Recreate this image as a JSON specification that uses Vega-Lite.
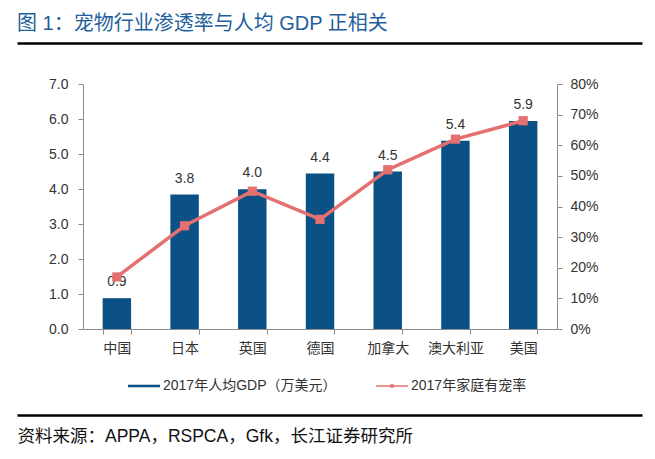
{
  "$schema": "https://vega.github.io/schema/vega-lite/v6.json",
  "width": 625,
  "height": 245,
  "autosize": {"type": "none"},
  "padding": {"left": 17, "top": 84, "right": 13, "bottom": 130},
  "background": "white",
  "config": {
    "view": {"stroke": null},
    "font": "Liberation Sans, Noto Sans CJK SC",
    "axis": {"grid": false, "domainColor": "#8c8c8c", "tickColor": "#8c8c8c", "labelColor": "#333333", "labelFontSize": 14, "labelFont": "Liberation Sans, Noto Sans CJK SC"}
  },
  "title": {
    "text": "图 1：宠物行业渗透率与人均 GDP 正相关",
    "anchor": "start",
    "frame": "group",
    "fontSize": 20,
    "fontWeight": "normal",
    "color": "#1f5f9b",
    "font": "Liberation Sans, Noto Sans CJK SC",
    "offset": 9
  },
  "data": {
    "values": [
      {"country": "中国", "gdp": 0.88, "rate": 0.17},
      {"country": "日本", "gdp": 3.84, "rate": 0.337},
      {"country": "英国", "gdp": 3.99, "rate": 0.45},
      {"country": "德国", "gdp": 4.44, "rate": 0.358},
      {"country": "加拿大", "gdp": 4.5, "rate": 0.52},
      {"country": "澳大利亚", "gdp": 5.38, "rate": 0.62},
      {"country": "美国", "gdp": 5.94, "rate": 0.68}
    ]
  },
  "layer": [
    {
      "mark": {"type": "bar"},
      "encoding": {
        "x": {
          "field": "country", "type": "nominal", "sort": null,
          "scale": {"domain": [" ", "中国", "日本", "英国", "德国", "加拿大", "澳大利亚", "美国", "  "], "paddingInner": 0.58, "paddingOuter": 0.405, "align": 0.327},
          "axis": {"orient": "bottom", "title": null, "labelAngle": 0, "tickBand": "extent", "values": ["中国", "日本", "英国", "德国", "加拿大", "澳大利亚", "美国"], "domainDash": [0, 66, 474, 300], "tickSize": 5, "labelPadding": 7}
        },
        "y": {
          "field": "gdp", "type": "quantitative", "scale": {"domain": [0, 7]},
          "axis": {"orient": "left", "offset": -66, "values": [0, 1, 2, 3, 4, 5, 6, 7], "format": ".1f", "title": null, "tickSize": 5, "labelPadding": 10}
        },
        "color": {
          "datum": "2017年人均GDP（万美元）",
          "scale": {"domain": ["2017年人均GDP（万美元）", "2017年家庭有宠率"], "range": ["#0b5185", "#e4706f"]},
          "legend": {
            "orient": "none", "legendX": 110, "legendY": 285, "direction": "horizontal", "columns": 2, "title": null,
            "symbolSize": 1156, "labelFontSize": 14, "labelColor": "#333333", "labelOffset": 2, "columnPadding": 38, "labelLimit": 0,
            "symbolStrokeWidth": 0,
            "encode": {
              "symbols": {
                "update": {
                  "shape": {"signal": "datum.index === 0 ? 'M-0.94,-0.075H0.94V0.075H-0.94Z' : 'M-0.94,-0.045H0.94V0.045H-0.94Z M-0.11,-0.11H0.11V0.11H-0.11Z'"},
                  "fill": {"signal": "datum.index === 0 ? '#0b5185' : '#e4706f'"},
                  "stroke": {"value": "transparent"}
                }
              }
            }
          }
        }
      }
    },
    {
      "mark": {"type": "text", "dy": -16, "fontSize": 14, "color": "#333333"},
      "encoding": {
        "x": {
          "field": "country", "type": "nominal", "sort": null,
          "axis": {"orient": "top", "offset": 41, "domainColor": "#000000", "domainWidth": 2.5, "ticks": false, "labels": false, "title": null}
        },
        "y": {"field": "gdp", "type": "quantitative", "scale": {"domain": [0, 7]}, "axis": null},
        "text": {"field": "gdp", "type": "quantitative", "format": ".1f"}
      }
    },
    {
      "mark": {"type": "line", "strokeWidth": 3.5},
      "encoding": {
        "x": {
          "field": "country", "type": "nominal", "sort": null,
          "axis": {"orient": "bottom", "offset": 86, "domainColor": "#000000", "domainWidth": 2.5, "ticks": false, "labels": false,
                   "title": "资料来源：APPA，RSPCA，Gfk，长江证券研究所", "titleAnchor": "start", "titleAlign": "left", "titleBaseline": "top",
                   "titleFontSize": 17.5, "titleFontWeight": "normal", "titleColor": "#111111", "titlePadding": 12, "titleFont": "Liberation Sans, Noto Sans CJK SC"}
        },
        "y": {
          "field": "rate", "type": "quantitative", "scale": {"domain": [0, 0.8]},
          "axis": {"orient": "right", "offset": -85, "values": [0, 0.1, 0.2, 0.3, 0.4, 0.5, 0.6, 0.7, 0.8], "format": ".0%", "title": null, "tickSize": 5, "labelPadding": 8}
        },
        "color": {"datum": "2017年家庭有宠率"}
      }
    },
    {
      "mark": {"type": "point", "shape": "square", "size": 85, "filled": true, "opacity": 1},
      "encoding": {
        "x": {"field": "country", "type": "nominal", "sort": null, "axis": null},
        "y": {"field": "rate", "type": "quantitative", "scale": {"domain": [0, 0.8]}, "axis": null},
        "color": {"datum": "2017年家庭有宠率"}
      }
    }
  ],
  "resolve": {"scale": {"y": "independent"}, "axis": {"x": "independent", "y": "independent"}}
}
